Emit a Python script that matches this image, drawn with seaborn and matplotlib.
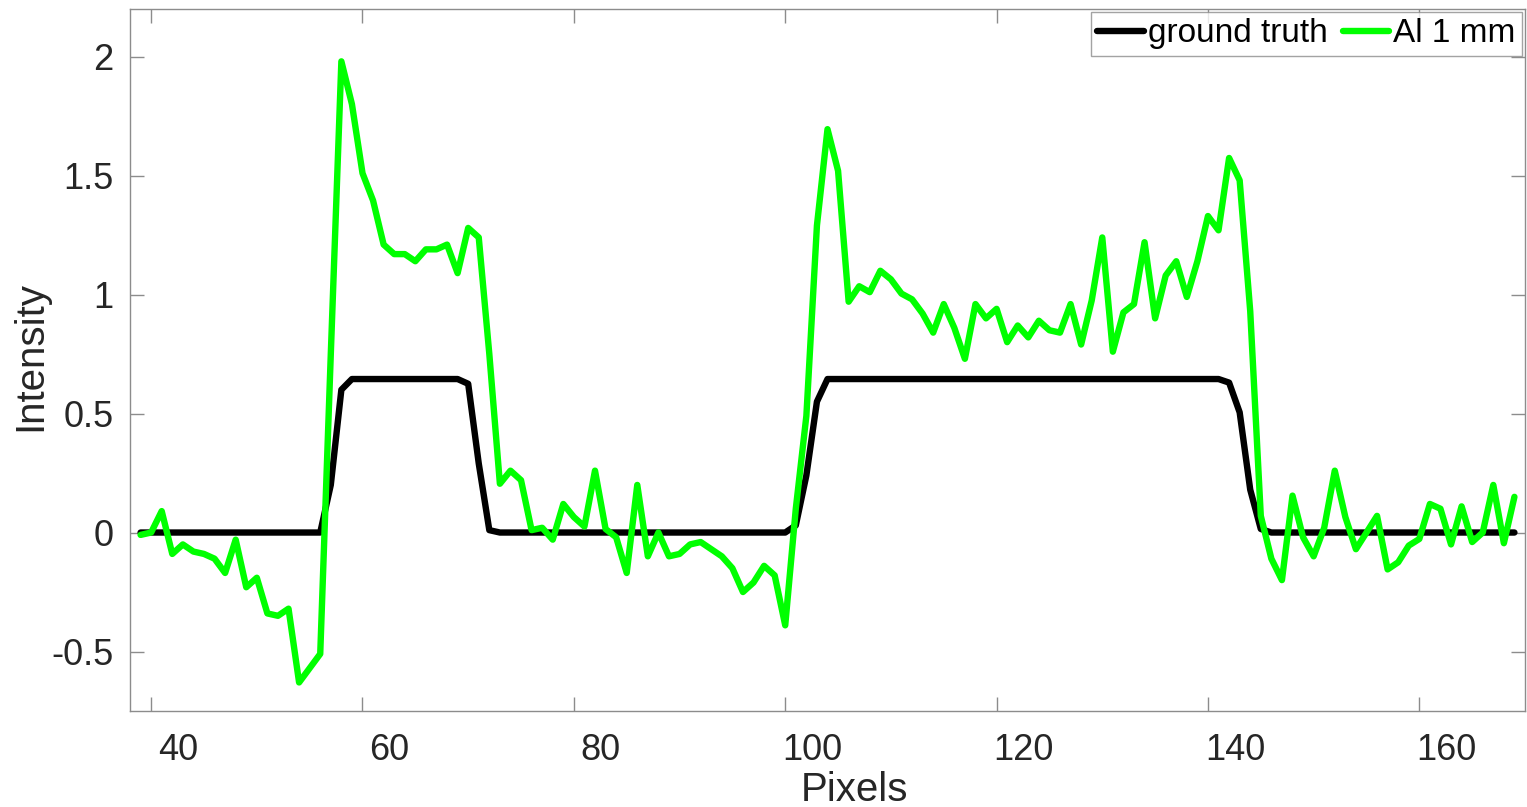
import numpy as np
import pandas as pd
import matplotlib
matplotlib.use("Agg")
import matplotlib.pyplot as plt
import matplotlib.transforms as mtransforms
import seaborn as sns

# ---- data ----
pixels = list(range(39, 170))

ground_truth = [
    0.0, 0.0, 0.0, 0.0, 0.0, 0.0, 0.0, 0.0, 0.0, 0.0,          # 39-48
    0.0, 0.0, 0.0, 0.0, 0.0, 0.0, 0.0, 0.0, 0.2, 0.6,          # 49-58
    0.645, 0.645, 0.645, 0.645, 0.645, 0.645, 0.645, 0.645, 0.645, 0.645,  # 59-68
    0.645, 0.625, 0.29, 0.01, 0.0, 0.0, 0.0, 0.0, 0.0, 0.0,    # 69-78
    0.0, 0.0, 0.0, 0.0, 0.0, 0.0, 0.0, 0.0, 0.0, 0.0,          # 79-88
    0.0, 0.0, 0.0, 0.0, 0.0, 0.0, 0.0, 0.0, 0.0, 0.0,          # 89-98
    0.0, 0.0, 0.03, 0.24, 0.55, 0.645, 0.645, 0.645, 0.645, 0.645,  # 99-108
    0.645, 0.645, 0.645, 0.645, 0.645, 0.645, 0.645, 0.645, 0.645, 0.645,  # 109-118
    0.645, 0.645, 0.645, 0.645, 0.645, 0.645, 0.645, 0.645, 0.645, 0.645,  # 119-128
    0.645, 0.645, 0.645, 0.645, 0.645, 0.645, 0.645, 0.645, 0.645, 0.645,  # 129-138
    0.645, 0.645, 0.645, 0.63, 0.505, 0.18, 0.015, 0.0, 0.0, 0.0,  # 139-148
    0.0, 0.0, 0.0, 0.0, 0.0, 0.0, 0.0, 0.0, 0.0, 0.0,          # 149-158
    0.0, 0.0, 0.0, 0.0, 0.0, 0.0, 0.0, 0.0, 0.0, 0.0, 0.0,     # 159-169
]

al_1mm = [
    -0.01, 0.0, 0.09, -0.09, -0.05, -0.08, -0.09, -0.11, -0.17, -0.03,   # 39-48
    -0.23, -0.19, -0.34, -0.35, -0.32, -0.63, -0.57, -0.51, 0.75, 1.98,  # 49-58
    1.80, 1.51, 1.395, 1.21, 1.17, 1.17, 1.14, 1.19, 1.19, 1.21,         # 59-68
    1.09, 1.28, 1.24, 0.75, 0.205, 0.26, 0.22, 0.01, 0.02, -0.03,        # 69-78
    0.12, 0.065, 0.025, 0.26, 0.015, -0.02, -0.17, 0.20, -0.10, 0.0,     # 79-88
    -0.10, -0.09, -0.05, -0.04, -0.07, -0.10, -0.15, -0.25, -0.21, -0.14,  # 89-98
    -0.18, -0.39, 0.10, 0.49, 1.29, 1.695, 1.52, 0.97, 1.035, 1.01,      # 99-108
    1.10, 1.064, 1.004, 0.98, 0.92, 0.84, 0.96, 0.86, 0.73, 0.96,        # 109-118
    0.90, 0.94, 0.80, 0.87, 0.82, 0.89, 0.85, 0.84, 0.96, 0.79,          # 119-128
    0.975, 1.24, 0.76, 0.925, 0.96, 1.22, 0.90, 1.08, 1.14, 0.99,        # 129-138
    1.14, 1.33, 1.27, 1.574, 1.48, 0.93, 0.07, -0.11, -0.20, 0.155,      # 139-148
    -0.02, -0.10, 0.02, 0.26, 0.065, -0.07, 0.0, 0.07, -0.155, -0.125,   # 149-158
    -0.055, -0.027, 0.12, 0.10, -0.05, 0.11, -0.04, 0.0, 0.20, -0.045, 0.15,  # 159-169
]

series_names = ["ground truth", "Al 1 mm"]
series_colors = ["#000000", "#00FF00"]
x_ticks = [40, 60, 80, 100, 120, 140, 160]
y_ticks = [-0.5, 0, 0.5, 1, 1.5, 2]
y_tick_labels = ["-0.5", "0", "0.5", "1", "1.5", "2"]

df = pd.concat([
    pd.DataFrame({"Pixels": pixels, "Intensity": ground_truth, "series": series_names[0]}),
    pd.DataFrame({"Pixels": pixels, "Intensity": al_1mm, "series": series_names[1]}),
], ignore_index=True)

# ---- style ----
sns.set_theme(style="white")
plt.rcParams["font.family"] = ["Liberation Sans", "DejaVu Sans"]
axis_gray = "#8c8c8c"
text_col = "#262626"

fig = plt.figure(figsize=(15.27, 8.07), dpi=100)
ax = fig.add_axes([130 / 1527, 1 - 711 / 807, (1525 - 130) / 1527, (711 - 9) / 807])

sns.lineplot(data=df, x="Pixels", y="Intensity", hue="series",
             hue_order=series_names, palette=dict(zip(series_names, series_colors)),
             linewidth=4.6, ax=ax, estimator=None, sort=False)

ax.set_xlim(38, 170)
ax.set_ylim(-0.75, 2.2)
ax.set_xticks(x_ticks)
ax.set_xticklabels([str(t) for t in x_ticks])
ax.set_yticks(y_ticks)
ax.set_yticklabels(y_tick_labels)

for sp in ax.spines.values():
    sp.set_visible(True)
    sp.set_color(axis_gray)
    sp.set_linewidth(1.0)

ax.tick_params(axis="both", which="both", direction="in", length=10, width=1.0,
               color=axis_gray, labelcolor=text_col, labelsize=26,
               top=True, right=True, bottom=True, left=True)
ax.tick_params(axis="x", pad=16)
ax.tick_params(axis="y", pad=12)

# reference shows x tick labels shifted slightly right of the tick marks
offset = mtransforms.ScaledTranslation(27 / 100, 0, fig.dpi_scale_trans)
for lbl in ax.get_xticklabels():
    lbl.set_transform(lbl.get_transform() + offset)

ax.set_xlabel("Pixels", fontsize=29, color=text_col, labelpad=-2)
ax.xaxis.set_label_coords((855 - 130) / (1525 - 130), -0.085)
ax.set_ylabel("Intensity", fontsize=29, color=text_col, labelpad=6)
ax.yaxis.set_label_coords((49 - 130) / (1525 - 130), 0.505)

leg = ax.legend(loc="upper right", ncol=2, fontsize=24, frameon=True, fancybox=False,
                handlelength=1.4, handletextpad=0.12, columnspacing=0.45,
                borderaxespad=0.08, borderpad=0.2, title=None)
leg.get_frame().set_edgecolor(axis_gray)
leg.get_frame().set_linewidth(1.0)
for line in leg.get_lines():
    line.set_linewidth(4.6)
for t in leg.get_texts():
    t.set_color("black")

fig.savefig("out.png", dpi=100)
